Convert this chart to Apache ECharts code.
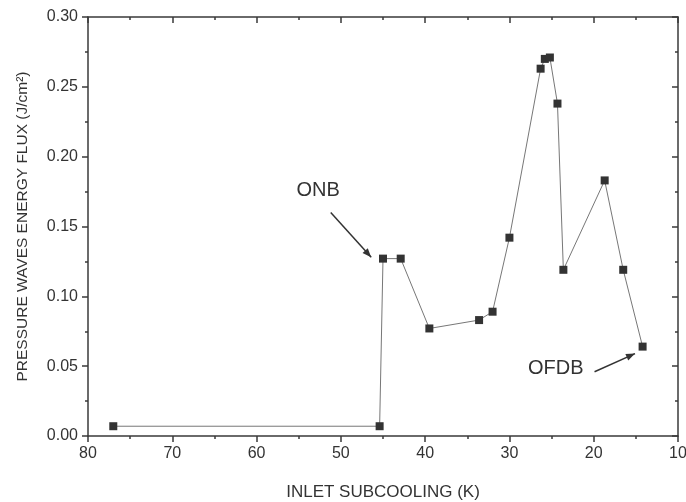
<!DOCTYPE html>
<html>
<head>
<meta charset="utf-8">
<script src="https://cdn.jsdelivr.net/npm/echarts@6/dist/echarts.min.js"></script>
<style>html,body{margin:0;padding:0;background:#fff;}#c{width:686px;height:502px;}</style>
</head>
<body>
<div id="c"></div>
<script>
var subcooling = [77.0, 45.4, 45.0, 42.9, 39.5, 33.6, 32.0, 30.0, 26.3, 25.8, 25.2, 24.3, 23.6, 18.7, 16.5, 14.2];
var energyFlux = [0.007, 0.007, 0.127, 0.127, 0.077, 0.083, 0.089, 0.142, 0.263, 0.270, 0.271, 0.238, 0.119, 0.183, 0.119, 0.064];
var annotationText = ['ONB', 'OFDB'];
var annotationTextPos = [[52.7, 0.176], [24.5, 0.048]];
var arrowFrom = [[51.2, 0.160], [19.9, 0.046]];
var arrowTo = [[46.4, 0.128], [15.1, 0.059]];

var fontFam = '"Liberation Sans", Arial, sans-serif';
var axisCol = '#3a3a3a';
var txtCol = '#333';
var chart = echarts.init(document.getElementById('c'));
var pts = subcooling.map(function (x, i) { return [x, energyFlux[i]]; });

function baseX(pos, show) {
  return {
    type: 'value', position: pos, inverse: true, min: 10, max: 80, interval: 10,
    axisLine: { show: true, onZero: false, lineStyle: { color: axisCol, width: 1.5 } },
    axisTick: { show: true, inside: pos === 'top', length: 6, lineStyle: { color: axisCol, width: 1.5 } },
    minorTick: { show: true, splitNumber: 2, length: 3, lineStyle: { color: axisCol, width: 1.5 } },
    axisLabel: { show: show, color: txtCol, fontSize: 16, fontFamily: fontFam, margin: 10 },
    splitLine: { show: false }
  };
}
function baseY(pos, show) {
  return {
    type: 'value', position: pos, min: 0, max: 0.30, interval: 0.05,
    axisLine: { show: true, onZero: false, lineStyle: { color: axisCol, width: 1.5 } },
    axisTick: { show: true, inside: pos === 'right', length: 6, lineStyle: { color: axisCol, width: 1.5 } },
    minorTick: { show: true, splitNumber: 2, length: 3, lineStyle: { color: axisCol, width: 1.5 } },
    axisLabel: { show: show, color: txtCol, fontSize: 16, fontFamily: fontFam, margin: 10,
      formatter: function (v) { return v.toFixed(2); } },
    splitLine: { show: false }
  };
}
var xb = baseX('bottom', true);
xb.name = 'INLET SUBCOOLING (K)';
xb.nameLocation = 'middle';
xb.nameGap = 48;
xb.nameTextStyle = { color: txtCol, fontSize: 17, fontFamily: fontFam };
var yl = baseY('left', true);
yl.name = 'PRESSURE WAVES ENERGY FLUX (J/cm\u00B2)';
yl.nameLocation = 'middle';
yl.nameGap = 57;
yl.nameTextStyle = { color: txtCol, fontSize: 15.5, fontFamily: fontFam };

chart.setOption({
  animation: false,
  backgroundColor: '#fff',
  grid: { left: 88, right: 8, top: 17, bottom: 66, containLabel: false, outerBoundsMode: 'none' },
  xAxis: [xb, baseX('top', false)],
  yAxis: [yl, baseY('right', false)],
  series: [{
    type: 'line', data: pts, xAxisIndex: 0, yAxisIndex: 0,
    symbol: 'rect', symbolSize: 8,
    itemStyle: { color: '#333' },
    lineStyle: { color: '#777', width: 1 }
  }]
});

var g = [];
annotationText.forEach(function (t, i) {
  var p = chart.convertToPixel({ xAxisIndex: 0, yAxisIndex: 0 }, annotationTextPos[i]);
  g.push({ type: 'text', x: p[0], y: p[1], style: { text: t, font: '20px ' + fontFam, fill: txtCol, textAlign: 'center', textVerticalAlign: 'middle' } });
  var a = chart.convertToPixel({ xAxisIndex: 0, yAxisIndex: 0 }, arrowFrom[i]);
  var b = chart.convertToPixel({ xAxisIndex: 0, yAxisIndex: 0 }, arrowTo[i]);
  g.push({ type: 'line', shape: { x1: a[0], y1: a[1], x2: b[0], y2: b[1] }, style: { stroke: '#333', lineWidth: 1.5 } });
  var ang = Math.atan2(b[1] - a[1], b[0] - a[0]);
  var L = 9, W = 3.5;
  var bx = b[0] - L * Math.cos(ang), by = b[1] - L * Math.sin(ang);
  g.push({ type: 'polygon', shape: { points: [
    [b[0], b[1]],
    [bx + W * Math.sin(ang), by - W * Math.cos(ang)],
    [bx - W * Math.sin(ang), by + W * Math.cos(ang)]
  ] }, style: { fill: '#333' } });
});
chart.setOption({ graphic: g });
</script>
</body>
</html>
